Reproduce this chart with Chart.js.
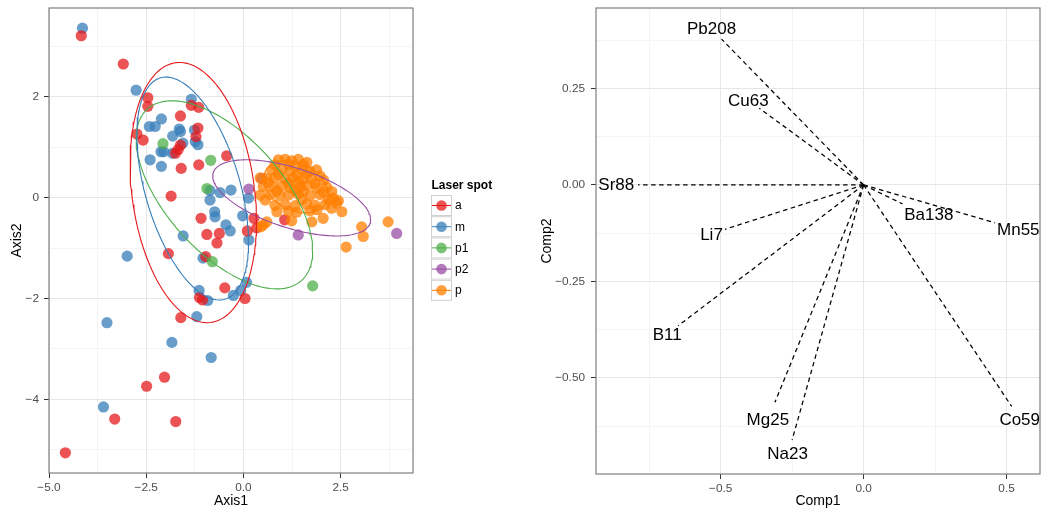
<!DOCTYPE html>
<html>
<head>
<meta charset="utf-8">
<script src="https://cdn.jsdelivr.net/npm/chart.js@4.4.0/dist/chart.umd.min.js"></script>
<style>
  html, body { margin: 0; padding: 0; background: #ffffff; }
  #wrap { position: relative; width: 1041px; height: 511px; overflow: hidden; }
  #scoreCanvas { position: absolute; left: 0; top: 0; width: 520px; height: 511px; }
  #loadCanvas { position: absolute; left: 520px; top: 0; width: 521px; height: 511px; }
</style>
</head>
<body>
<div id="wrap">
  <canvas id="scoreCanvas" width="520" height="511"></canvas>
  <canvas id="loadCanvas" width="521" height="511"></canvas>
</div>
<script>
// ---------- scores (Axis1, Axis2) per laser spot ----------
const spotGroups = ['a', 'm', 'p1', 'p2', 'p'];

const spotA = [
  [-4.17, 3.21], [-3.09, 2.65], [-2.46, 1.98], [-2.46, 1.81], [-1.62, 1.62], [-1.34, 1.83],
  [-1.15, 1.79], [-1.17, 1.38], [-1.22, 1.21], [-2.74, 1.26], [-2.58, 1.14], [-1.68, 0.95],
  [-1.75, 0.88], [-1.62, 1.04], [-1.60, 0.58], [-1.15, 0.65], [-0.43, 0.83], [-1.86, 0.03],
  [-1.09, -0.41], [-0.94, -0.73], [-0.68, -0.90], [-0.62, -0.71], [0.10, -0.66], [0.27, -0.41],
  [0.34, -0.60], [1.06, -0.44], [-1.93, -1.11], [-0.97, -1.17], [-0.48, -1.79], [-1.13, -1.98],
  [-1.05, -2.03], [0.04, -2.00], [-1.61, -2.38], [-2.03, -3.56], [-2.49, -3.74], [-3.31, -4.39],
  [-1.74, -4.44], [-4.58, -5.06]
];

const spotM = [
  [-4.14, 3.36], [-2.76, 2.13], [-1.34, 1.95], [-2.11, 1.56], [-2.42, 1.41], [-2.27, 1.41],
  [-1.65, 1.36], [-1.62, 1.31], [-1.26, 1.34], [-1.24, 1.11], [-1.17, 1.05], [-1.82, 1.22],
  [-1.56, 1.08], [-2.12, 0.91], [-2.05, 0.91], [-1.82, 0.88], [-2.40, 0.75], [-2.11, 0.62],
  [-0.86, 0.14], [-0.60, 0.10], [-0.32, 0.15], [-0.86, -0.05], [0.13, -0.01], [-0.74, -0.28],
  [-0.73, -0.38], [-0.02, -0.36], [-0.45, -0.54], [-0.34, -0.66], [-1.55, -0.76], [0.14, -0.84],
  [-2.99, -1.16], [-1.04, -1.20], [-1.14, -1.84], [-0.92, -2.04], [-0.26, -1.94], [-0.07, -1.84],
  [0.08, -1.68], [-1.20, -2.36], [-3.51, -2.48], [-1.84, -2.87], [-0.83, -3.17], [-3.60, -4.15]
];

const spotP1 = [
  [-2.07, 1.07], [-0.84, 0.74], [-0.94, 0.18], [-0.80, -1.27], [1.78, -1.75]
];

const spotP2 = [
  [0.14, 0.17], [0.47, 0.38], [1.41, -0.74], [3.94, -0.71]
];

const spotP = [
  [0.90, 0.75], [1.07, 0.76], [1.24, 0.73], [1.41, 0.76], [1.63, 0.70],
  [0.81, 0.65], [1.16, 0.66], [1.33, 0.62], [1.54, 0.66],
  [0.73, 0.55], [0.99, 0.56], [1.20, 0.53], [1.50, 0.55], [1.71, 0.52], [1.88, 0.55],
  [0.90, 0.46], [1.37, 0.45], [1.63, 0.47], [1.97, 0.43],
  [0.43, 0.39], [0.60, 0.38], [0.81, 0.40], [1.07, 0.37], [1.28, 0.39], [1.54, 0.36], [1.76, 0.38], [2.06, 0.35],
  [0.64, 0.30], [1.16, 0.29], [1.41, 0.31], [1.84, 0.28],
  [0.51, 0.22], [0.77, 0.21], [0.99, 0.23], [1.20, 0.20], [1.46, 0.22], [1.63, 0.24], [1.88, 0.19], [2.14, 0.21],
  [0.86, 0.13], [1.33, 0.14], [1.54, 0.12], [2.06, 0.11], [2.27, 0.12],
  [0.43, 0.05], [0.69, 0.06], [0.94, 0.04], [1.16, 0.05], [1.41, 0.07], [1.71, 0.04], [1.97, 0.06], [2.31, -0.01],
  [0.56, -0.05], [1.50, -0.04], [2.19, -0.04], [2.44, -0.06],
  [0.81, -0.15], [1.07, -0.14], [1.33, -0.16], [1.63, -0.13], [1.84, -0.15], [2.10, -0.14], [2.40, -0.11],
  [0.86, -0.28], [1.16, -0.27], [1.37, -0.29], [1.71, -0.26], [1.89, -0.24], [2.27, -0.21], [2.53, -0.28],
  [0.60, -0.48], [1.24, -0.46], [1.76, -0.48], [2.05, -0.41], [0.51, -0.54], [0.45, -0.58],
  [3.04, -0.58], [3.08, -0.77], [3.72, -0.48], [2.64, -0.98]
];

// confidence ellipses per spot: centre, half extents along each axis, phase between them
const ellipseCentreX = [-1.29, -1.305, -0.49, 1.24, 1.35];
const ellipseCentreY = [0.10, 0.18, 0.055, -0.005, 0.215];
const ellipseHalfX = [1.625, 1.435, 2.27, 2.03, 0.83];
const ellipseHalfY = [2.58, 2.21, 1.865, 0.755, 0.515];
const ellipsePhaseDeg = [102.6, 118.5, 126.5, 124.8, 107.5];

// tick values and labels
const axis1Major = [-5, -2.5, 0, 2.5];
const axis1Labels = ['\u22125.0', '\u22122.5', '0.0', '2.5'];
const axis1Minor = [-3.75, -1.25, 1.25, 3.75];
const axis2Major = [-4, -2, 0, 2];
const axis2Labels = ['\u22124', '\u22122', '0', '2'];
const axis2Minor = [-5, -3, -1, 1, 3];

// ---------- loadings (Comp1, Comp2) ----------
const loadingNames = ['Pb208', 'Cu63', 'Sr88', 'Li7', 'Ba138', 'Mn55', 'B11', 'Mg25', 'Na23', 'Co59'];
const loadingComp1 = [-0.497, -0.365, -0.789, -0.485, 0.136, 0.460, -0.649, -0.310, -0.250, 0.518];
const loadingComp2 = [0.378, 0.199, 0.000, -0.115, -0.049, -0.098, -0.365, -0.563, -0.661, -0.574];
const labelComp1 = [-0.532, -0.403, -0.865, -0.532, 0.228, 0.541, -0.687, -0.335, -0.266, 0.546];
const labelComp2 = [0.402, 0.216, 0.000, -0.130, -0.078, -0.117, -0.389, -0.609, -0.698, -0.611];

const comp1Major = [-0.5, 0, 0.5];
const comp1Labels = ['\u22120.5', '0.0', '0.5'];
const comp1Minor = [-0.75, -0.25, 0.25];
const comp2Major = [-0.5, -0.25, 0, 0.25];
const comp2Labels = ['\u22120.50', '\u22120.25', '0.00', '0.25'];
const comp2Minor = [-0.625, -0.375, -0.125, 0.125, 0.375];

// ---------- styling ----------
const palette = ['#E41A1C', '#377EB8', '#4DAF4A', '#984EA3', '#FF7F00'];
const FONT = "'Liberation Sans', Arial, Helvetica, sans-serif";
Chart.defaults.font.family = FONT;
Chart.defaults.color = '#4d4d4d';

function withAlpha(hex, a) {
  const n = parseInt(hex.slice(1), 16);
  return `rgba(${(n >> 16) & 255},${(n >> 8) & 255},${n & 255},${a})`;
}
function toXY(pairs) { return pairs.map(p => ({ x: p[0], y: p[1] })); }

function ellipseOutline(i) {
  const out = [];
  const ph = ellipsePhaseDeg[i] * Math.PI / 180;
  const steps = 160;
  for (let k = 0; k <= steps; k++) {
    const t = 2 * Math.PI * k / steps;
    out.push({ x: ellipseCentreX[i] + ellipseHalfX[i] * Math.cos(t),
               y: ellipseCentreY[i] + ellipseHalfY[i] * Math.cos(t - ph) });
  }
  return out;
}

function tickScale(min, max, major, labels, minor, titleText, titlePad, tickPad, fitSize, isX) {
  const all = major.concat(minor).sort((a, b) => a - b);
  const isMajor = v => major.some(m => Math.abs(m - v) < 1e-9);
  return {
    type: 'linear',
    min: min, max: max,
    afterBuildTicks: s => { s.ticks = all.map(v => ({ value: v })); },
    afterFit: s => {
      if (isX) s.height = fitSize; else s.width = fitSize;
      s.paddingTop = 0; s.paddingBottom = 0; s.paddingLeft = 0; s.paddingRight = 0;
    },
    ticks: {
      autoSkip: false,
      maxRotation: 0,
      padding: tickPad,
      color: '#4d4d4d',
      font: { size: 11.8 },
      callback: v => {
        const i = major.findIndex(m => Math.abs(m - v) < 1e-9);
        return i >= 0 ? labels[i] : '';
      }
    },
    grid: {
      color: c => (c.tick && isMajor(c.tick.value)) ? '#e6e6e6' : '#f4f4f4',
      lineWidth: 1,
      tickColor: c => (c.tick && isMajor(c.tick.value)) ? '#333333' : 'rgba(0,0,0,0)',
      tickLength: 5,
      drawTicks: true
    },
    border: { display: false },
    title: {
      display: true, text: titleText, color: '#000000',
      font: { size: 14 }, padding: titlePad
    }
  };
}

const framePlugin = {
  id: 'panelFrame',
  afterDraw(chart) {
    const a = chart.chartArea, ctx = chart.ctx;
    ctx.save();
    ctx.strokeStyle = '#7f7f7f';
    ctx.lineWidth = 1.2;
    ctx.strokeRect(a.left, a.top, a.right - a.left, a.bottom - a.top);
    ctx.restore();
  }
};

const spotLegend = {
  id: 'spotLegend',
  afterDraw(chart) {
    const ctx = chart.ctx;
    const left = chart.chartArea.right + 18;
    const top = 195;
    const box = 20, step = 21.2;
    ctx.save();
    ctx.fillStyle = '#000000';
    ctx.font = `bold 12px ${FONT}`;
    ctx.textAlign = 'left';
    ctx.textBaseline = 'middle';
    ctx.fillText('Laser spot', left + 0.5, top - 9.5);
    spotGroups.forEach((g, i) => {
      const y = top + i * step;
      ctx.fillStyle = '#ffffff';
      ctx.fillRect(left, y, box, box);
      ctx.strokeStyle = '#d0d0d0';
      ctx.lineWidth = 1;
      ctx.strokeRect(left + 0.5, y + 0.5, box, box);
      ctx.strokeStyle = palette[i];
      ctx.beginPath();
      ctx.moveTo(left + 1, y + box / 2 + 0.5);
      ctx.lineTo(left + box, y + box / 2 + 0.5);
      ctx.stroke();
      ctx.fillStyle = withAlpha(palette[i], 0.75);
      ctx.beginPath();
      ctx.arc(left + box / 2 + 0.5, y + box / 2 + 0.5, 5.3, 0, 2 * Math.PI);
      ctx.fill();
      ctx.fillStyle = '#000000';
      ctx.font = `12px ${FONT}`;
      ctx.fillText(g, left + 24, y + box / 2 + 1);
    });
    ctx.restore();
  }
};

const loadingLabels = {
  id: 'loadingLabels',
  afterDatasetsDraw(chart) {
    const ctx = chart.ctx, xs = chart.scales.x, ys = chart.scales.y;
    ctx.save();
    ctx.fillStyle = '#000000';
    ctx.font = `17px ${FONT}`;
    ctx.textAlign = 'center';
    ctx.textBaseline = 'middle';
    loadingNames.forEach((n, i) => {
      ctx.fillText(n, xs.getPixelForValue(labelComp1[i]), ys.getPixelForValue(labelComp2[i]));
    });
    ctx.restore();
  }
};

// ---------- left panel: scores ----------
const pointSets = [spotA, spotM, spotP1, spotP2, spotP];
const drawOrder = [4, 5, 3, 2, 1];
const scoreDatasets = [];
spotGroups.forEach((g, i) => {
  scoreDatasets.push({
    label: g + ' ellipse',
    data: ellipseOutline(i),
    showLine: true,
    borderColor: palette[i],
    borderWidth: 1.1,
    pointRadius: 0,
    tension: 0,
    fill: false,
    order: 0
  });
});
spotGroups.forEach((g, i) => {
  scoreDatasets.push({
    label: g,
    data: toXY(pointSets[i]),
    showLine: false,
    pointRadius: 5.6,
    pointBorderWidth: 0,
    pointBackgroundColor: withAlpha(palette[i], 0.75),
    borderColor: 'rgba(0,0,0,0)',
    order: drawOrder[i]
  });
});

new Chart(document.getElementById('scoreCanvas'), {
  type: 'scatter',
  data: { datasets: scoreDatasets },
  options: {
    responsive: false,
    animation: false,
    events: [],
    layout: { padding: { left: 0, top: 8, right: 107, bottom: 0 }, autoPadding: false },
    plugins: { legend: { display: false }, tooltip: { enabled: false } },
    scales: {
      x: tickScale(-5.0, 4.36, axis1Major, axis1Labels, axis1Minor, 'Axis1', { top: 0, bottom: 1 }, 3, 38, true),
      y: tickScale(-5.46, 3.76, axis2Major, axis2Labels, axis2Minor, 'Axis2', { top: 9, bottom: 0 }, 5, 49, false)
    }
  },
  plugins: [framePlugin, spotLegend]
});

// ---------- right panel: loadings ----------
const loadDatasets = loadingNames.map((n, i) => ({
  label: n,
  data: [{ x: 0, y: 0 }, { x: loadingComp1[i], y: loadingComp2[i] }],
  showLine: true,
  borderColor: '#000000',
  borderWidth: 1.25,
  borderDash: [4.5, 3.5],
  pointRadius: 0,
  tension: 0,
  fill: false
}));

new Chart(document.getElementById('loadCanvas'), {
  type: 'scatter',
  data: { datasets: loadDatasets },
  options: {
    responsive: false,
    animation: false,
    events: [],
    layout: { padding: { left: 0, top: 8, right: 1, bottom: 0 }, autoPadding: false },
    plugins: { legend: { display: false }, tooltip: { enabled: false } },
    scales: {
      x: tickScale(-0.936, 0.617, comp1Major, comp1Labels, comp1Minor, 'Comp1', { top: 0, bottom: 1 }, 3, 37, true),
      y: tickScale(-0.749, 0.4585, comp2Major, comp2Labels, comp2Minor, 'Comp2', { top: 19, bottom: 0 }, 6, 76, false)
    }
  },
  plugins: [framePlugin, loadingLabels]
});
</script>
</body>
</html>
